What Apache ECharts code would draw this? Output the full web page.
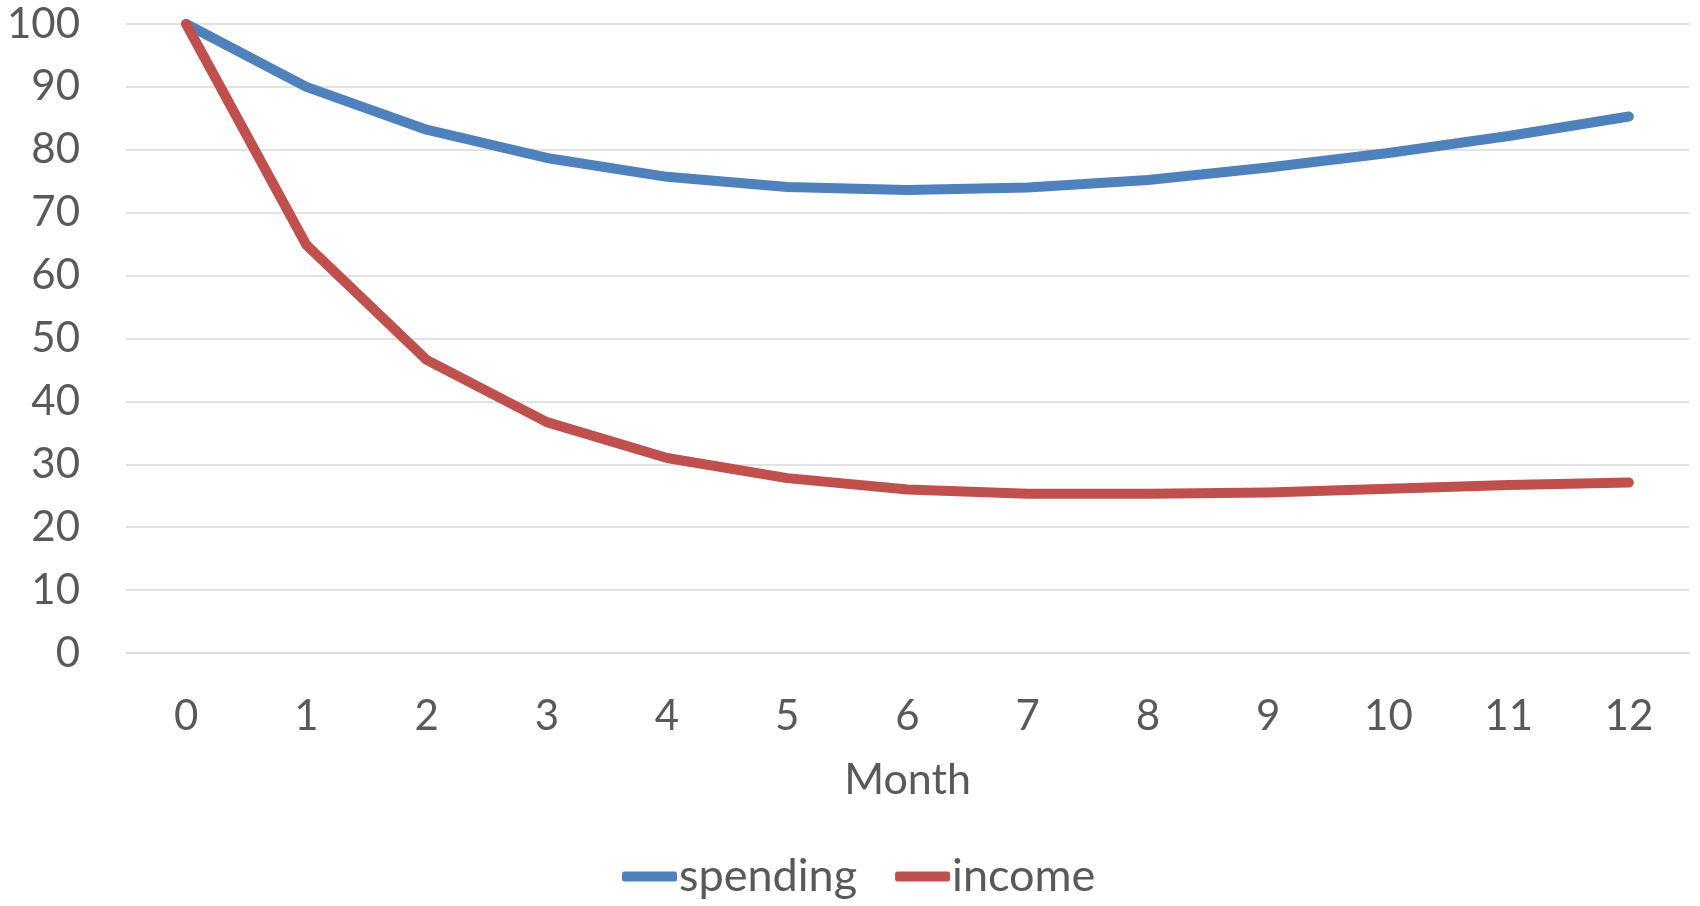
<!DOCTYPE html>
<html>
<head>
<meta charset="utf-8">
<script src="https://cdn.jsdelivr.net/npm/echarts@6/dist/echarts.min.js"></script>
<style>
  html, body { margin: 0; padding: 0; background: #ffffff; }
  #chart { width: 1700px; height: 906px; }
</style>
</head>
<body>
<div id="chart"></div>
<script>
// Months since the start, and the two indexed series (start = 100)
const months = ['0', '1', '2', '3', '4', '5', '6', '7', '8', '9', '10', '11', '12'];
const spending = [100, 90.0, 83.2, 78.7, 75.7, 74.1, 73.6, 74.0, 75.2, 77.2, 79.5, 82.2, 85.3];
const income = [100, 64.9, 46.6, 36.7, 31.0, 27.8, 26.0, 25.3, 25.3, 25.5, 26.1, 26.7, 27.1];
const yTicks = { min: 0, max: 100, interval: 10 };

const textColor = '#595959';
const gridColor = '#d9d9d9';
const fontFamily = 'Lato, "Open Sans", sans-serif';

const chart = echarts.init(document.getElementById('chart'), null, { renderer: 'canvas' });

chart.setOption({
  animation: false,
  backgroundColor: '#ffffff',
  textStyle: { fontFamily: fontFamily, color: textColor },
  grid: { left: 126, right: 11, top: 24, bottom: 253, containLabel: false },
  legend: {
    bottom: 2,
    left: 617,
    icon: 'roundRect',
    itemWidth: 55,
    itemHeight: 10,
    itemGap: 38,
    textStyle: { fontFamily: fontFamily, fontSize: 45, color: textColor, padding: [0, 0, 0, -3] },
    data: ['spending', 'income']
  },
  xAxis: {
    type: 'category',
    data: months,
    boundaryGap: true,
    name: 'Month',
    nameLocation: 'middle',
    nameGap: 106,
    nameTextStyle: { fontFamily: fontFamily, fontSize: 43, color: textColor },
    axisLine: { show: true, lineStyle: { color: gridColor, width: 1.5 } },
    axisTick: { show: false },
    axisLabel: { fontFamily: fontFamily, fontSize: 42, color: textColor, margin: 42 },
    splitLine: { show: false }
  },
  yAxis: {
    type: 'value',
    min: yTicks.min,
    max: yTicks.max,
    interval: yTicks.interval,
    axisLine: { show: false },
    axisTick: { show: false },
    axisLabel: { fontFamily: fontFamily, fontSize: 42, color: textColor, margin: 46 },
    splitLine: { show: true, lineStyle: { color: gridColor, width: 1.5 } }
  },
  series: [
    {
      name: 'spending',
      type: 'line',
      data: spending,
      showSymbol: false,
      symbol: 'none',
      color: '#4f81bd',
      lineStyle: { color: '#4f81bd', width: 10, cap: 'round', join: 'round' }
    },
    {
      name: 'income',
      type: 'line',
      data: income,
      showSymbol: false,
      symbol: 'none',
      color: '#c0504d',
      lineStyle: { color: '#c0504d', width: 10, cap: 'round', join: 'round' }
    }
  ]
});
</script>
</body>
</html>
